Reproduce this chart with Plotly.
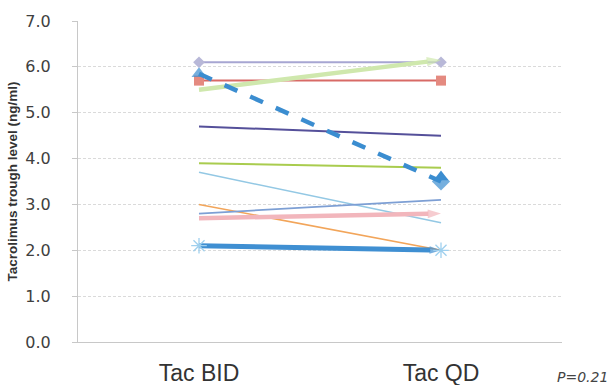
import plotly.graph_objects as go

# Tacrolimus trough levels per patient, twice-daily vs once-daily dosing
categories = ["Tac BID", "Tac QD"]

grey_diamond = [6.1, 6.1]
green_arrow = [5.5, 6.15]
red_square = [5.7, 5.7]
blue_dashed = [5.85, 3.5]
blue_triangle_qd = [3.6]
navy = [4.7, 4.5]
yellow_green = [3.9, 3.8]
light_blue = [3.7, 2.6]
steel_blue = [2.8, 3.1]
pink_arrow = [2.7, 2.8]
orange = [3.0, 2.0]
blue_thick = [2.1, 2.0]

y_ticks = [0, 1, 2, 3, 4, 5, 6, 7]
y_tick_text = ["0.0", "1.0", "2.0", "3.0", "4.0", "5.0", "6.0", "7.0"]

fig = go.Figure()


def add_line(values, color, width, dash="solid", symbols=None, msize=8,
             mcolor=None, angleref="up"):
    mode = "lines+markers" if symbols else "lines"
    marker = None
    if symbols:
        marker = dict(symbol=symbols, size=msize, color=mcolor or color,
                      angleref=angleref, line=dict(width=0))
    fig.add_trace(go.Scatter(
        x=categories, y=values, mode=mode,
        line=dict(color=color, width=width, dash=dash),
        marker=marker, showlegend=False, hoverinfo="skip"))


add_line(orange, "#f2a55a", 1.6)
add_line(light_blue, "#93c8e4", 1.6)
add_line(steel_blue, "#7d9fd4", 1.8)
add_line(pink_arrow, "#f2b6bc", 4.5, symbols=["circle", "arrow"], msize=[0, 14],
         angleref="previous")
add_line(blue_thick, "#3f8fd2", 5, symbols=["circle", "arrow"], msize=[0, 12],
         angleref="previous")
add_line(yellow_green, "#a9cc4e", 2)
add_line(navy, "#55509a", 2)
add_line(grey_diamond, "#a7a6d2", 2, symbols=["diamond", "diamond"], msize=9,
         mcolor="#b8b8d8")
add_line(red_square, "#d86a66", 2, symbols=["square", "square"], msize=10,
         mcolor="#e48a80")
add_line(green_arrow, "#cfe8ad", 4.5, symbols=["circle", "arrow"], msize=[0, 15],
         angleref="previous")
add_line(blue_dashed, "#3b8dd0", 4.5, dash="14px,14px",
         symbols=["triangle-up", "diamond"], msize=[13, 14])

# QD triangle marker beside the dashed line's end point
fig.add_trace(go.Scatter(
    x=["Tac QD"], y=blue_triangle_qd, mode="markers",
    marker=dict(symbol="triangle-up", size=13, color="#3b8dd0"),
    showlegend=False, hoverinfo="skip"))

# asterisk-style markers on the lowest blue line
fig.add_trace(go.Scatter(
    x=categories, y=blue_thick, mode="markers",
    marker=dict(symbol="asterisk-open", size=13, color="#9fd0ee",
                line=dict(color="#9fd0ee", width=1.3)),
    showlegend=False, hoverinfo="skip"))

fig.update_layout(
    width=610, height=385,
    margin=dict(l=78, r=48, t=21, b=43),
    paper_bgcolor="white", plot_bgcolor="white",
    font=dict(family="Liberation Sans, Arial, sans-serif", color="#333333"),
    xaxis=dict(
        type="category", range=[-0.5, 1.5], automargin=False,
        showgrid=False, showline=True, linecolor="#c8c8c8", linewidth=1,
        ticks="outside", ticklen=10, tickcolor="rgba(0,0,0,0)",
        tickfont=dict(size=23, color="#333333",
                      family="Liberation Sans, Arial, sans-serif"),
        zeroline=False,
    ),
    yaxis=dict(
        range=[0, 7], tickvals=y_ticks, ticktext=y_tick_text,
        automargin=False,
        showgrid=True, gridcolor="#dadada", griddash="3px,2px", gridwidth=1,
        showline=True, linecolor="#c8c8c8", linewidth=1,
        ticks="outside", ticklen=5, tickcolor="#c8c8c8",
        ticklabelstandoff=18,
        tickfont=dict(size=16, color="#404040",
                      family="DejaVu Sans, Verdana, sans-serif"),
        zeroline=False,
        title=dict(text="<b>Tacrolimus trough level (ng/ml)</b>",
                   font=dict(size=13.5, color="#333333",
                             family="Liberation Sans, Arial, sans-serif"),
                   standoff=4),
    ),
    annotations=[dict(
        text="<i>P=0.21</i>", x=1.0, xref="paper", y=-0.11, yref="paper",
        xanchor="left", yanchor="middle", xshift=-7, showarrow=False,
        font=dict(size=14, color="#444444",
                  family="DejaVu Sans, Verdana, sans-serif"))],
)

fig.write_html("out.html")
